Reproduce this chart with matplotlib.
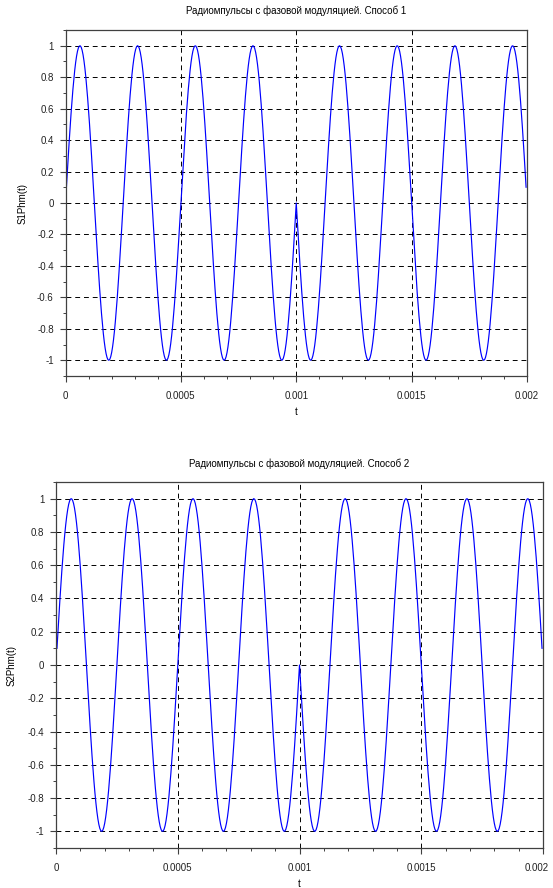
import numpy as np
import matplotlib
matplotlib.use("Agg")
import matplotlib.pyplot as plt
from matplotlib.ticker import MultipleLocator
from matplotlib.transforms import ScaledTranslation

plt.rcParams['font.family'] = ['Liberation Sans', 'DejaVu Sans']

# signal parameters
carrier_freq = 4000.0          # Hz, 8 periods over 2 ms
dt = 4e-6                      # sample step
t_start, t_end = dt, 0.002 - dt
switch_times = [0.0, 0.001]    # phase changes at 1 ms
phases_deg = [0, 180]          # phase of each segment

titles = ["Радиомпульсы с фазовой модуляцией. Способ 1",
          "Радиомпульсы с фазовой модуляцией. Способ 2"]
ylabels = ["S1Phm(t)", "S2Phm(t)"]
xticks = [0, 0.0005, 0.001, 0.0015, 0.002]
xticklabels = ["0", "0.0005", "0.001", "0.0015", "0.002"]
yticks = [1, 0.8, 0.6, 0.4, 0.2, 0, -0.2, -0.4, -0.6, -0.8, -1]
yticklabels = ["1", "0.8", "0.6", "0.4", "0.2", "0", "-0.2", "-0.4", "-0.6", "-0.8", "-1"]

t = np.arange(t_start, t_end + dt / 2, dt)
phase = np.zeros_like(t)
for ts, ph in zip(switch_times, phases_deg):
    phase[t > ts] = np.deg2rad(ph)
signal = np.sin(2 * np.pi * carrier_freq * t + phase)

W, H = 553, 888
fig = plt.figure(figsize=(W / 100, H / 100), dpi=100)

# (left, right, top, bottom) in pixels, plus label positions
boxes = [(65.5, 527, 30, 376), (56, 543, 482, 848)]
title_y = [11, 464]
ylabel_x = [23, 12]
xlabel_y = [412, 884]

for i, (l, r, tp, b) in enumerate(boxes):
    ax = fig.add_axes([l / W, 1 - b / H, (r - l) / W, (b - tp) / H])
    ax.plot(t, signal, color='#0000ff', lw=0.85)
    ax.set_xlim(0, 0.002)
    ax.set_ylim(-1.1, 1.1)
    ax.set_xticks(xticks)
    ax.set_xticklabels(xticklabels)
    ax.set_yticks(yticks)
    ax.set_yticklabels(yticklabels)
    ax.xaxis.set_minor_locator(MultipleLocator(0.0001))
    ax.yaxis.set_minor_locator(MultipleLocator(0.1))
    ax.tick_params(which='major', length=4.5, width=0.8, labelsize=7,
                   color='#404040', labelcolor='#222222', pad=6)
    ax.tick_params(which='minor', length=2.5, width=0.7, color='#404040')
    ax.tick_params(axis='y', pad=4)
    ax.grid(True, which='major', color='black', ls=(0, (5, 4)), lw=0.7)
    for s in ax.spines.values():
        s.set_color('#404040')
        s.set_linewidth(0.9)
    if r > W - 15:
        # keep the last tick label inside the canvas
        last = ax.get_xticklabels()[-1]
        last.set_transform(last.get_transform() +
                           ScaledTranslation(-0.06, 0, fig.dpi_scale_trans))
    cx = (l + r) / 2
    fig.text(cx / W, 1 - title_y[i] / H, titles[i], ha='center', va='center',
             fontsize=7)
    fig.text(cx / W, 1 - xlabel_y[i] / H, "t", ha='center', va='center',
             fontsize=7)
    fig.text(ylabel_x[i] / W, 1 - (tp + b) / 2 / H, ylabels[i], ha='center',
             va='center', rotation=90, fontsize=7)

fig.savefig("out.png", dpi=100)
